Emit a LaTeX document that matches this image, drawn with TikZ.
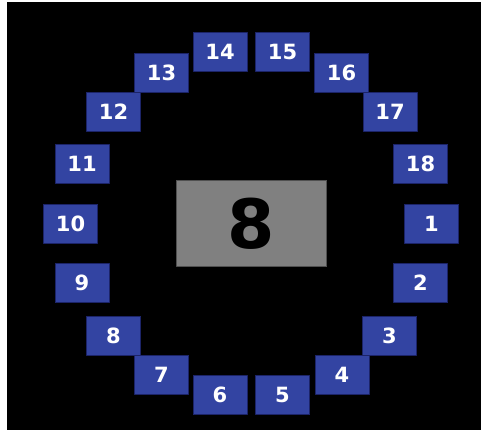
\documentclass[tikz,border=0pt]{standalone}
\usepackage{fontspec}
\setmainfont{DejaVu Sans}
\definecolor{seatblue}{RGB}{51,68,162}
\definecolor{seatedge}{RGB}{28,36,104}
\definecolor{tablegray}{RGB}{128,128,128}
\definecolor{tableedge}{RGB}{80,80,80}

\begin{document}
\begin{tikzpicture}[x=1pt,y=-1pt,line join=round]
\tikzset{seat/.style={draw=seatedge,line width=0.8pt,fill=seatblue,text=white,
    minimum width=54pt,minimum height=39pt,inner sep=0pt,
    font=\fontsize{21}{21}\selectfont\bfseries},
  table/.style={draw=tableedge,line width=1.2pt,fill=tablegray,text=black,
    minimum width=150pt,minimum height=86pt,inner sep=0pt,
    font=\fontsize{68}{68}\selectfont\bfseries}}
\useasboundingbox (0,0) rectangle (481,430);
\fill[white] (0,0) rectangle (481,430);
\fill[black] (7,2) rectangle (481,430);
% table in the middle
\node[table] (mid) at (251.5,223.5) {8};
% seats around it
\foreach \n/\x/\y in {1/431.5/223.5, 2/420.5/283, 3/389.5/335.5, 4/342/374.5,
    5/282.5/395, 6/220/395, 7/161.5/374.5, 8/113.5/335.5, 9/82/283,
    10/70.5/223.5, 11/82/163.5, 12/113.5/112, 13/161.5/72.5, 14/220/52,
    15/282.5/52, 16/341.5/72.5, 17/390/112, 18/420.5/163.5}
  \node[seat] (s\n) at (\x,\y) {\n};
\end{tikzpicture}
\end{document}
